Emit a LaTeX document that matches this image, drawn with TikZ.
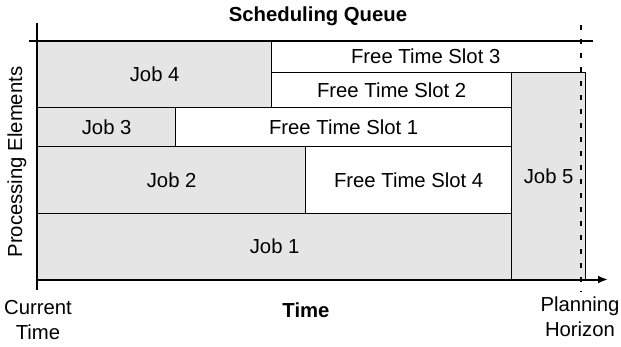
\documentclass[tikz,border=0pt]{standalone}
\usepackage{fontspec}
\setmainfont{Liberation Sans}
\usetikzlibrary{arrows.meta}

\begin{document}
\begin{tikzpicture}[x=1pt, y=-1pt,
  every node/.style={font=\fontsize{20.3}{25}\selectfont},
  job/.style={draw, line width=1.3pt, fill=gray!20, anchor=north west, inner sep=0pt},
  slot/.style={draw, line width=1.3pt, fill=white, anchor=north west, inner sep=0pt},
  axis/.style={line width=2pt}]

\useasboundingbox (0,0) rectangle (621,346);

% Jobs and free time slots
\node[job, minimum width=234pt, minimum height=66pt] (job4) at (37,41) {Job 4};
\node[anchor=north west, inner sep=0pt, minimum width=309pt, minimum height=31pt] (slot3) at (271,41) {Free Time Slot 3};
\node[slot, minimum width=240pt, minimum height=35pt] (slot2) at (271,72) {Free Time Slot 2};
\node[job, minimum width=138pt, minimum height=39pt] (job3) at (37,107) {Job 3};
\node[slot, minimum width=336pt, minimum height=39pt] (slot1) at (175,107) {Free Time Slot 1};
\node[job, minimum width=268pt, minimum height=67pt] (job2) at (37,146) {Job 2};
\node[slot, minimum width=206pt, minimum height=67pt] (slot4) at (305,146) {Free Time Slot 4};
\node[job, minimum width=474pt, minimum height=66pt] (job1) at (37,213) {Job 1};
\node[job, minimum width=74pt, minimum height=207pt] (job5) at (511,72) {Job 5};

% Axes
\coordinate (ytop) at (37,23);
\coordinate (ybot) at (37,290);
\coordinate (qleft) at (29,41);
\coordinate (qright) at (593,41);
\coordinate (torigin) at (37,279.5);
\coordinate (tend) at (608,279.5);
\draw[axis] (ytop) -- (ybot);
\draw[axis] (qleft) -- (qright);
\draw[axis, -{Latex[length=10pt, width=8pt]}] (torigin) -- (tend);

% Planning horizon
\coordinate (htop) at (580.5,25);
\coordinate (hbot) at (580.5,292);
\draw[line width=2pt, dash pattern=on 5pt off 9pt] (htop) -- (hbot);

% Labels
\node[font=\fontsize{20.3}{25}\selectfont\bfseries] (title) at (318,16) {Scheduling Queue};
\node[rotate=90] (pe) at (17,162) {Processing Elements};
\node[font=\fontsize{20.3}{25}\selectfont\bfseries] (time) at (306,310) {Time};
\node[align=center] (now) at (38,320) {Current\\Time};
\node[align=center] (horizon) at (580,317) {Planning\\Horizon};

\end{tikzpicture}
\end{document}
